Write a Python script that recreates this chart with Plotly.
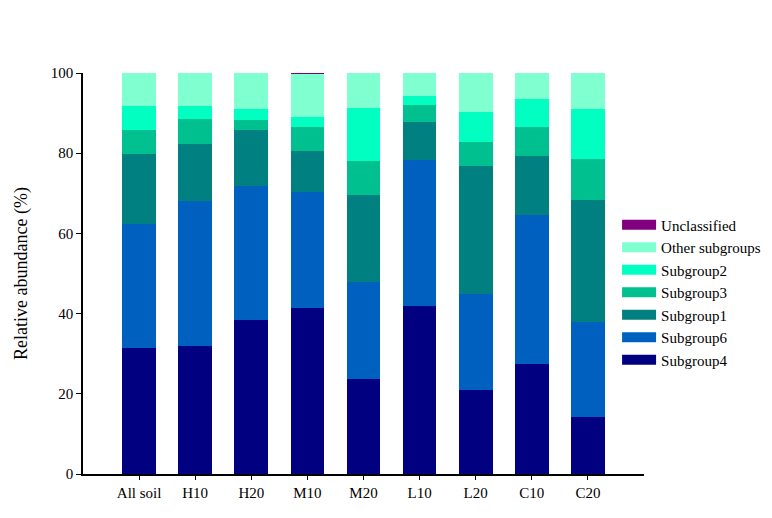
import plotly.graph_objects as go

samples = ["All soil", "H10", "H20", "M10", "M20", "L10", "L20", "C10", "C20"]

subgroup4 = [31.3, 31.8, 38.4, 41.5, 23.8, 42.0, 20.9, 27.5, 14.1]
subgroup6 = [31.0, 36.2, 33.4, 28.9, 24.0, 36.3, 23.9, 37.0, 23.7]
subgroup1 = [17.5, 14.3, 13.9, 10.2, 21.7, 9.5, 32.0, 14.7, 30.5]
subgroup3 = [6.1, 6.3, 2.6, 5.9, 8.6, 4.2, 6.0, 7.3, 10.3]
subgroup2 = [5.9, 3.2, 2.8, 2.5, 13.2, 2.3, 7.5, 7.0, 12.5]
other_subgroups = [8.2, 8.2, 8.9, 10.8, 8.7, 5.7, 9.7, 6.5, 8.9]
unclassified = [0.0, 0.0, 0.0, 0.2, 0.0, 0.0, 0.0, 0.0, 0.0]

series = [
    ("Subgroup4", subgroup4, "#000080"),
    ("Subgroup6", subgroup6, "#0060C0"),
    ("Subgroup1", subgroup1, "#008080"),
    ("Subgroup3", subgroup3, "#00C090"),
    ("Subgroup2", subgroup2, "#00FFC0"),
    ("Other subgroups", other_subgroups, "#80FFD0"),
    ("Unclassified", unclassified, "#800080"),
]

fig = go.Figure()
for name, vals, col in series:
    fig.add_trace(go.Bar(
        x=samples, y=vals, name=name,
        marker=dict(color=col, line=dict(width=0)),
        width=0.6, showlegend=False,
    ))
# legend entries drawn as wide colour swatches
for name, vals, col in series:
    fig.add_trace(go.Scatter(
        x=[None], y=[None], name=name, mode="lines",
        line=dict(color=col, width=10), showlegend=True,
    ))

font_family = "Liberation Serif"
fig.update_layout(
    width=772, height=518,
    barmode="stack",
    plot_bgcolor="white", paper_bgcolor="white",
    margin=dict(l=75, r=136, t=65, b=52),
    font=dict(family=font_family, size=15, color="black"),
    legend=dict(
        traceorder="reversed",
        x=0.952, y=0.662, xanchor="left", yanchor="top",
        font=dict(family=font_family, size=15, color="black"),
        bgcolor="rgba(0,0,0,0)",
        tracegroupgap=0,
        itemwidth=34,
    ),
    xaxis=dict(
        range=[-1, 9],
        showline=True, linecolor="black", linewidth=1.5,
        ticks="outside", ticklen=4, tickcolor="black", tickwidth=1,
        showgrid=False, zeroline=False,
        tickfont=dict(family=font_family, size=15, color="black"),
    ),
    yaxis=dict(
        range=[0, 100],
        tickvals=[0, 20, 40, 60, 80, 100],
        showline=True, linecolor="black", linewidth=1.5,
        ticks="outside", ticklen=5, tickcolor="black", tickwidth=1,
        showgrid=False, zeroline=False,
        tickfont=dict(family=font_family, size=15, color="black"),
        title=dict(text="Relative abundance (%)",
                   font=dict(family=font_family, size=18, color="black"),
                   standoff=18),
    ),
)

fig.write_html("out.html")
